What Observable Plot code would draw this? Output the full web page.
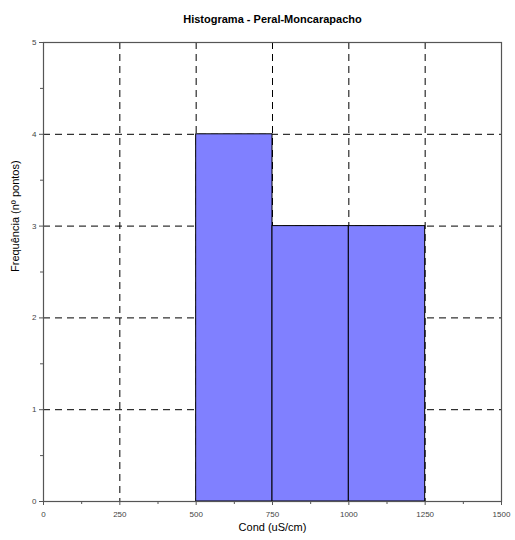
<!DOCTYPE html>
<html><head><meta charset="utf-8">
<script src="https://cdn.jsdelivr.net/npm/d3@7"></script>
<script src="https://cdn.jsdelivr.net/npm/@observablehq/plot@0.6"></script>
<style>body{margin:0;background:#fff;font-family:"Liberation Sans",Arial,sans-serif}</style>
</head><body><div id="chart"></div>
<script>
const title = "Histograma - Peral-Moncarapacho";
const xLabel = "Cond (uS/cm)";
const yLabel = "Frequência (nº pontos)";
const binStart = [500, 750, 1000];
const binEnd = [750, 1000, 1250];
const counts = [4, 3, 3];
const xTicks = [0, 250, 500, 750, 1000, 1250, 1500];
const xMinor = [125, 375, 625, 875, 1125, 1375];
const yTicks = [0, 1, 2, 3, 4, 5];
const yMinor = [0.5, 1.5, 2.5, 3.5, 4.5];

const bins = binStart.map((s, i) => ({x1: s, x2: binEnd[i], y: counts[i]}));
const gridX = xTicks.slice(1, -1);
const gridY = yTicks.slice(1, -1);

const chart = Plot.plot({
  width: 515, height: 540,
  marginLeft: 43, marginRight: 14, marginTop: 42, marginBottom: 39,
  style: {fontFamily: "'Liberation Sans', Arial, sans-serif", background: "#fff"},
  x: {domain: [0, 1500]},
  y: {domain: [0, 5]},
  marks: [
    Plot.ruleX(gridX, {stroke: "#000", strokeDasharray: "7,5", strokeWidth: 1}),
    Plot.ruleY(gridY, {stroke: "#000", strokeDasharray: "7,5", strokeWidth: 1}),
    Plot.rectY(bins, {x1: "x1", x2: "x2", y: "y", fill: "#8080ff", stroke: "#000", strokeWidth: 1}),
    Plot.frame({stroke: "#555", strokeWidth: 1.2}),
    Plot.axisX({ticks: xTicks, tickSize: 4, tickPadding: 6, tickFormat: d => String(d), fontSize: 8, fill: "#444", stroke: "#555", label: null}),
    Plot.axisX({ticks: xMinor, tickSize: 3, tickFormat: () => "", stroke: "#555", label: null}),
    Plot.axisY({ticks: yTicks, tickSize: 4, tickPadding: 3, tickFormat: d => String(d), fontSize: 8, fill: "#444", stroke: "#555", label: null}),
    Plot.axisY({ticks: yMinor, tickSize: 3, tickFormat: () => "", stroke: "#555", label: null}),
    Plot.text([title], {frameAnchor: "top", dy: -27, fontSize: 11, fontWeight: "bold", fill: "#000"}),
    Plot.text([xLabel], {frameAnchor: "bottom", dy: 29, fontSize: 11, fill: "#000"}),
    Plot.text([yLabel], {frameAnchor: "left", dx: -28, rotate: -90, fontSize: 11, fill: "#000"})
  ]
});
document.getElementById("chart").appendChild(chart);
</script>
</body></html>
